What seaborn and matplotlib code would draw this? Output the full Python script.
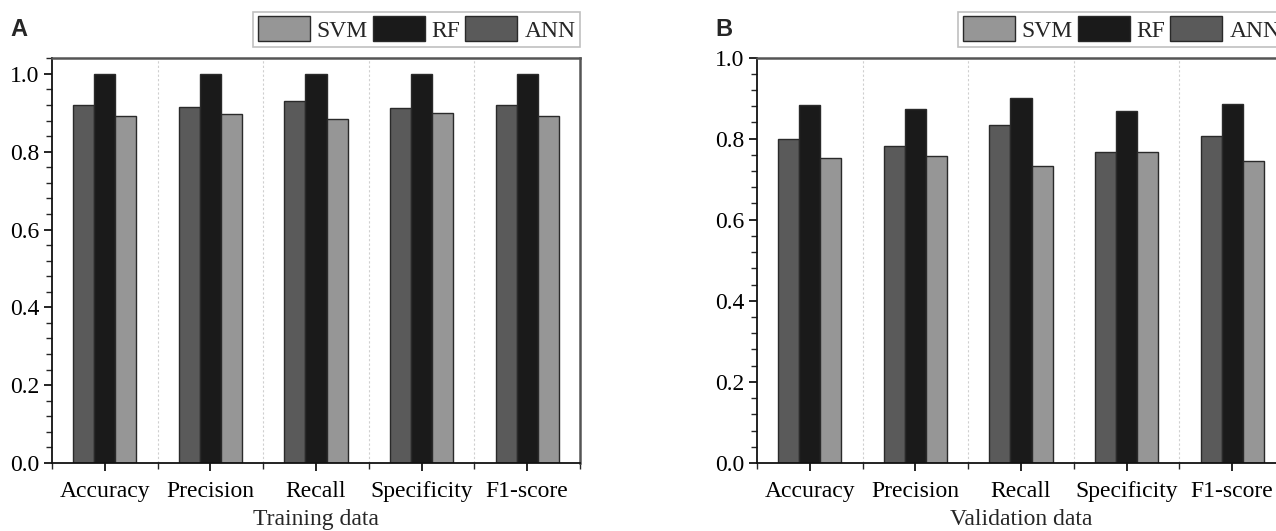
import numpy as np
import pandas as pd
import matplotlib
matplotlib.use("Agg")
import matplotlib.pyplot as plt
import seaborn as sns
from matplotlib.patches import Patch
from matplotlib.ticker import FixedLocator, MultipleLocator

metrics = ["Accuracy", "Precision", "Recall", "Specificity", "F1-score"]
models = ["ANN", "RF", "SVM"]
train_ann = [0.921, 0.914, 0.929, 0.913, 0.921]
train_rf = [1.0, 1.0, 1.0, 1.0, 1.0]
train_svm = [0.892, 0.897, 0.884, 0.900, 0.891]
valid_ann = [0.800, 0.782, 0.833, 0.766, 0.806]
valid_rf = [0.883, 0.872, 0.900, 0.867, 0.885]
valid_svm = [0.751, 0.758, 0.733, 0.766, 0.745]
legend_order = ["SVM", "RF", "ANN"]
panel_labels = ["A", "B"]
xlabels = ["Training data", "Validation data"]
yticks = [0.0, 0.2, 0.4, 0.6, 0.8, 1.0]

colors = {"ANN": "#5a5a5a", "RF": "#1a1a1a", "SVM": "#969696"}

sns.set_style("white")
plt.rcParams["font.family"] = ["Liberation Serif", "DejaVu Serif"]

def make_df(ann, rf, svm):
    rows = []
    for m, vals in zip(models, [ann, rf, svm]):
        for k, v in zip(metrics, vals):
            rows.append({"metric": k, "model": m, "value": v})
    return pd.DataFrame(rows)

dfs = [make_df(train_ann, train_rf, train_svm), make_df(valid_ann, valid_rf, valid_svm)]
ylims = [(0, 1.042), (0, 1.0)]

fig = plt.figure(figsize=(12.76, 5.31), dpi=100)
W, H = 1276, 531
positions = [52, 757]
axw = 528
bottom_px, top_px = 463, 57.5
fs = 17

for i, df in enumerate(dfs):
    ax = fig.add_axes([positions[i] / W, (H - bottom_px) / H, axw / W, (bottom_px - top_px) / H])
    sns.barplot(data=df, x="metric", y="value", hue="model", hue_order=models,
                order=metrics, palette=colors, width=0.6, edgecolor="#2a2a2a",
                linewidth=1.0, saturation=1, ax=ax, legend=False)
    ax.set_xlim(-0.5, 4.5)
    ax.set_ylim(*ylims[i])
    ax.set_yticks(yticks)
    ax.set_yticklabels([f"{t:.1f}" for t in yticks])
    ax.yaxis.set_minor_locator(MultipleLocator(0.04))
    ax.xaxis.set_minor_locator(FixedLocator(np.arange(-0.5, 5.0, 1.0)))
    ax.tick_params(axis="both", which="major", direction="out", length=6, width=1.2,
                   labelsize=fs, colors="black", left=True, bottom=True)
    ax.tick_params(axis="both", which="minor", direction="out", length=4, width=1.0,
                   left=True, bottom=True)
    ax.tick_params(axis="x", pad=7)
    ax.tick_params(axis="y", pad=3)
    for b in np.arange(0.5, 4.5, 1.0):
        ax.axvline(b, color="#cfcfcf", linestyle=(0, (2, 2)), linewidth=0.8, zorder=0)
    for s in ["left", "bottom"]:
        ax.spines[s].set_color("#111111")
        ax.spines[s].set_linewidth(1.3)
    for s in ["top", "right"]:
        ax.spines[s].set_color("#555555")
        ax.spines[s].set_linewidth(1.8)
    ax.set_ylabel("")
    ax.set_xlabel(xlabels[i], fontsize=fs, labelpad=5)
    handles = [Patch(facecolor=colors[m], edgecolor="#2a2a2a", linewidth=1.0) for m in legend_order]
    leg = ax.legend(handles, legend_order, ncol=3, loc="lower right",
                    bbox_to_anchor=(1.0, 1.027), borderaxespad=0, fontsize=fs,
                    handlelength=2.2, handleheight=1.25, handletextpad=0.3,
                    columnspacing=0.2, borderpad=0.2, frameon=True, fancybox=False)
    leg.get_frame().set_edgecolor("#b0b0b0")
    leg.get_frame().set_linewidth(1.2)
    fig.text((positions[i] - 42) / W, 1 - 30 / H, panel_labels[i], fontsize=17,
             fontweight="bold", family=["Liberation Sans", "DejaVu Sans"],
             va="center", ha="left")

fig.savefig("out.png", dpi=100)
